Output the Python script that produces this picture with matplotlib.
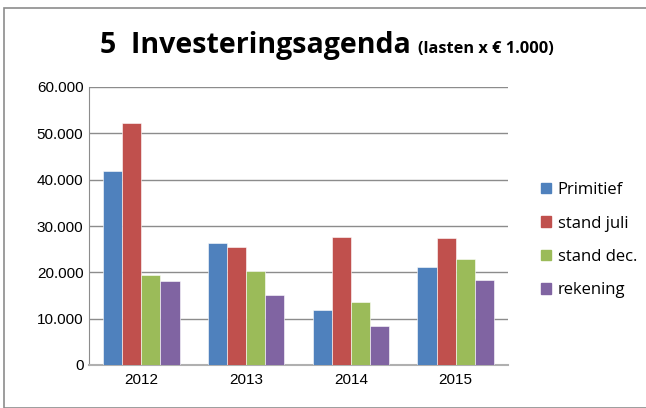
import matplotlib.pyplot as plt
import numpy as np
from matplotlib.ticker import FuncFormatter
from matplotlib.patches import Rectangle, Patch

years = ["2012", "2013", "2014", "2015"]
series = ["Primitief", "stand juli", "stand dec.", "rekening"]
primitief = [41900, 26400, 11900, 21200]
stand_juli = [52200, 25500, 27700, 27400]
stand_dec = [19500, 20200, 13700, 22800]
rekening = [18100, 15200, 8400, 18400]
colors = ["#4F81BD", "#C0504D", "#9BBB59", "#8064A2"]

W, H = 646, 408
fig = plt.figure(figsize=(W / 100, H / 100), dpi=100)
fig.patches.append(Rectangle((4 / W, 0), 1, 1 - 8 / H, transform=fig.transFigure,
                             fill=False, edgecolor="#8c8c8c", lw=1.2))

# plot area in pixels: x 89..508, y 87..365
ax = fig.add_axes([89 / W, 1 - 365 / H, (508 - 89) / W, (365 - 87) / H])

x = np.arange(len(years))
bw = 0.182
for i, vals in enumerate([primitief, stand_juli, stand_dec, rekening]):
    ax.bar(x + (i - 1.5) * bw, vals, bw, color=colors[i], edgecolor="white", lw=0.4,
           zorder=3)

ax.set_xlim(-0.5, 3.5)
ax.set_ylim(0, 60000)
ax.set_yticks(range(0, 60001, 10000))
ax.yaxis.set_major_formatter(FuncFormatter(lambda v, p: f"{int(v):,}".replace(",", ".")))
ax.set_xticks(x, years)
ax.grid(axis="y", color="#8c8c8c", lw=1.0, zorder=0)
for s in ["top", "right"]:
    ax.spines[s].set_visible(False)
ax.spines["left"].set_color("#8c8c8c")
ax.spines["bottom"].set_color("#b0b0b0")
ax.spines["bottom"].set_linewidth(1.5)
ax.tick_params(axis="both", length=0, labelsize=11, labelcolor="black",
               labelfontfamily="Liberation Sans")
ax.tick_params(axis="y", pad=4)
ax.tick_params(axis="x", pad=6)

fig.text(100 / W, 1 - 46 / H, "5  Investeringsagenda", fontsize=20.5, fontweight="bold",
         family="Open Sans", va="center", ha="left")
fig.text(418 / W, 1 - 49 / H, "(lasten x € 1.000)", fontsize=11.8, fontweight="bold",
         family="Open Sans", va="center", ha="left")

handles = [Patch(color=c) for c in colors]
fig.legend(handles, series, loc="upper left", bbox_to_anchor=(526 / W, 1 - 167 / H),
           frameon=False, prop={"family": "Open Sans", "size": 12},
           handlelength=0.6, handleheight=0.6, handletextpad=0.4, labelspacing=1.05)

fig.savefig("out.png", dpi=100)
